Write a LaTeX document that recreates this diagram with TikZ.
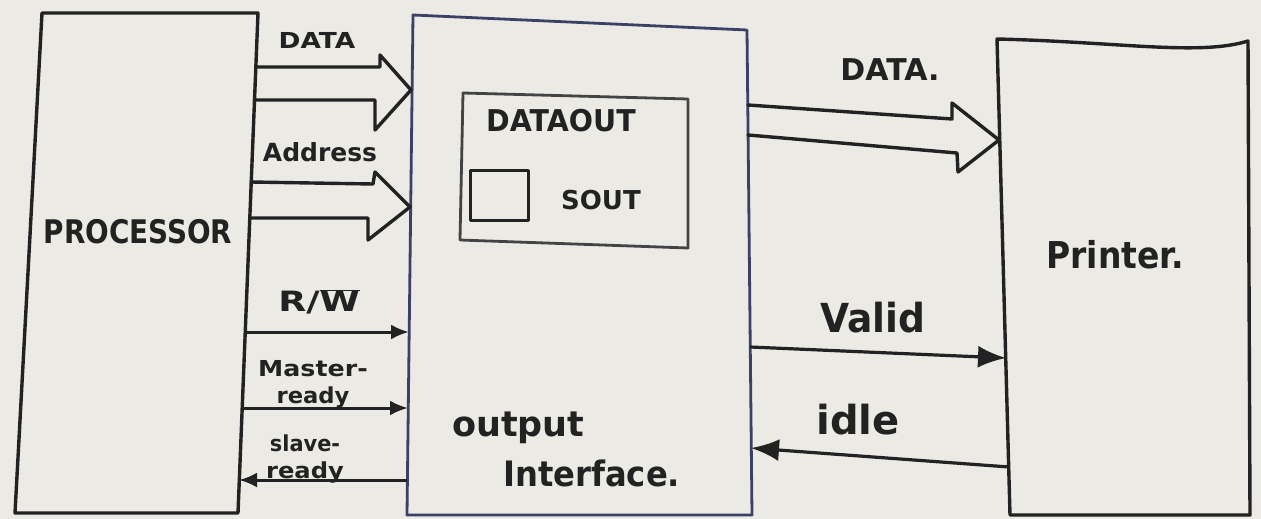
\documentclass[tikz,border=0pt]{standalone}
\usepackage{fontspec}
\usepackage{graphicx}
\setmainfont{DejaVu Sans}
\usetikzlibrary{arrows.meta,calc}
\definecolor{paper}{HTML}{ECEAE4}
\definecolor{ink}{HTML}{222222}
\definecolor{bluink}{HTML}{3A4068}
\tikzset{
  frame/.style={draw=ink, line width=3.4pt, line join=round},
  iface/.style={draw=bluink, line width=2.8pt, line join=round},
  bus/.style={draw=ink, line width=3.4pt, line join=round, line cap=round},
  sig/.style={draw=ink, line width=3pt, -{Latex[length=18pt,width=15pt]}},
  bigsig/.style={draw=ink, line width=3.2pt, -{Latex[length=28pt,width=22pt]}},
  lbl/.style={text=ink, inner sep=0pt},
}
\newcommand{\fs}[2]{\fontsize{#1}{#2}\selectfont\bfseries}
\newcommand{\sx}[2]{\scalebox{#1}[1]{#2}}
\begin{document}
\begin{tikzpicture}[x=1pt,y=-1pt]
\fill[paper] (0,0) rectangle (1261,519);
\useasboundingbox (0,0) rectangle (1261,519);

% ---- processor block
\coordinate (pTL) at (42,13);
\coordinate (pTR) at (258,13);
\coordinate (pBR) at (238,513);
\coordinate (pBL) at (15,513);
\draw[frame] (pTL) -- (pTR) -- (pBR) -- (pBL) -- cycle;
\node[lbl, font=\fs{26}{26}] (proc) at (138,232) {\scalebox{1.07}[1.25]{PROCESSOR}};

% ---- output interface block
\coordinate (iTL) at (413,15);
\coordinate (iTR) at (747,30);
\coordinate (iBR) at (752,515);
\coordinate (iBL) at (407,515);
\draw[iface] (iTL) -- (iTR) -- (iBR) -- (iBL) -- cycle;
\node[lbl, font=\fs{35}{50}, align=left, anchor=north west] (oi) at (452,412)
  {output\\\hspace*{51pt}\sx{0.92}{Interface.}};

% DATAOUT register with its SOUT flag
\draw[frame, line width=2.8pt, draw=ink!85] (463,93) -- (688,99) -- (688,248) -- (460,240) -- cycle;
\node[lbl, font=\fs{30}{30}] (dout) at (561,121) {\sx{0.95}{DATAOUT}};
\draw[frame, line width=3pt] (470,170) rectangle (528,220);
\node[lbl, font=\fs{26}{26}] (sout) at (601,200) {SOUT};

% ---- printer block
\coordinate (rTL) at (997,39);
\coordinate (rTR) at (1248,41);
\coordinate (rBR) at (1250,515);
\coordinate (rBL) at (1010,515);
\draw[frame] (rTL) .. controls (1120,42) and (1200,56) .. (rTR) -- (rBR) -- (rBL) -- cycle;
\node[lbl, font=\fs{33}{33}] (prn) at (1115,255) {\scalebox{1}[1.12]{Printer.}};

% ---- processor -> interface buses
\coordinate (dA) at (256,67);
\coordinate (dB) at (254,100);
\coordinate (dT) at (411,90);
\draw[bus] (dA) -- (380,67) -- (380,55) -- (dT) -- (375,130) -- (375,100) -- (dB);
\node[lbl, font=\fs{22}{22}] (ldata) at (317,40) {\sx{1.2}{DATA}};

\coordinate (aA) at (251,182);
\coordinate (aB) at (250,218);
\coordinate (aT) at (410,207);
\draw[bus] (aA) -- (373,184) -- (375,172) -- (aT) -- (368,240) -- (368,218) -- (aB);
\node[lbl, font=\fs{25}{25}] (laddr) at (320,152) {Address};

% ---- control lines
\coordinate (rwS) at (245,332);
\coordinate (rwE) at (409,332);
\draw[sig] (rwS) -- (rwE);
\node[lbl, font=\fs{28}{28}] (lrw) at (319,302) {\sx{1.3}{R/$\overline{\mbox{\bfseries W}}$}};

\coordinate (mrS) at (242,408);
\coordinate (mrE) at (408,408);
\draw[sig] (mrS) -- (mrE);
\node[lbl, font=\fs{22}{27}, align=center] (lmr) at (313,384)
  {\sx{1.15}{Master-}\\\sx{1.03}{ready}};

\coordinate (srS) at (407,480);
\coordinate (srE) at (239,480);
\draw[sig] (srS) -- (srE);
\node[lbl, font=\fs{22}{27}, align=center] (lsr) at (305,459)
  {\sx{0.95}{slave-}\\\sx{1.1}{ready}};

% ---- interface -> printer bus
\coordinate (oA) at (748,105);
\coordinate (oB) at (748,135);
\coordinate (oT) at (999,140);
\draw[bus] (oA) -- (952,119) -- (952,103) -- (oT) -- (958,172) -- (957,153) -- (oB);
\node[lbl, font=\fs{30}{30}] (ldata2) at (890,70) {DATA.};

% ---- handshake with the printer
\coordinate (vS) at (750,347);
\coordinate (vE) at (1006,358);
\draw[bigsig] (vS) -- (vE);
\node[lbl, font=\fs{40}{40}] (lvalid) at (873,318) {\sx{0.94}{Valid}};

\coordinate (idS) at (1009,467);
\coordinate (idE) at (751,448);
\draw[bigsig] (idS) -- (idE);
\node[lbl, font=\fs{40}{40}] (lidle) at (858,420) {idle};
\end{tikzpicture}
\end{document}
